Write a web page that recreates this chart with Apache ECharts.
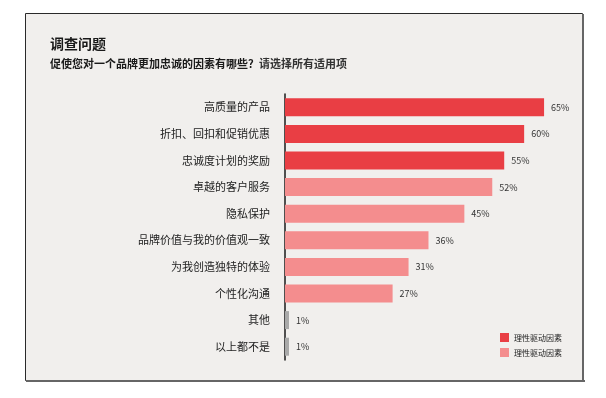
<!DOCTYPE html>
<html>
<head>
<meta charset="utf-8">
<script src="https://cdn.jsdelivr.net/npm/echarts@6/dist/echarts.min.js"></script>
<style>
	html, body { margin: 0; padding: 0; background: #ffffff; }
	#chart { width: 606px; height: 398px; }
</style>
</head>
<body>
<div id="chart"></div>
<script>
// 数据
var categories = ['高质量的产品', '折扣、回扣和促销优惠', '忠诚度计划的奖励', '卓越的客户服务', '隐私保护',
	'品牌价值与我的价值观一致', '为我创造独特的体验', '个性化沟通', '其他', '以上都不是'];
var rationalValues = [65, 60, 55, null, null, null, null, null, null, null];
var emotionalValues = [null, null, null, 52, 45, 36, 31, 27, null, null];
var otherValues = [null, null, null, null, null, null, null, null, 1, 1];

window.onload = function () {
	var chart = echarts.init(document.getElementById('chart'));
	var font = '"Noto Sans CJK SC", "Noto Sans", sans-serif';

	var labelOpt = {
		show: true,
		position: 'right',
		distance: 7,
		formatter: '{c}%',
		color: '#333333',
		fontSize: 9,
		fontFamily: font
	};

	var option = {
		backgroundColor: '#ffffff',
		textStyle: { fontFamily: font },
		graphic: [
			{
				type: 'rect',
				z: -10,
				shape: { x: 25.5, y: 13.5, width: 557, height: 367 },
				style: { fill: '#f1efed', stroke: '#2a2a2a', lineWidth: 1 }
			},
			{
				type: 'rect',
				z: -9,
				shape: { x: 26, y: 380, width: 559, height: 2 },
				style: { fill: '#666666' }
			},
			{
				type: 'rect',
				z: -9,
				shape: { x: 582, y: 14, width: 2, height: 368 },
				style: { fill: '#666666' }
			}
		],
		title: [
			{
				text: '调查问题',
				left: 45,
				top: 32,
				textStyle: { fontSize: 14, fontWeight: 'bold', color: '#1a1a1a', fontFamily: font }
			},
			{
				text: '{b|促使您对一个品牌更加忠诚的因素有哪些？}{n|请选择所有适用项}',
				left: 45,
				top: 53,
				textStyle: {
					rich: {
						b: { fontSize: 11, fontWeight: 'bold', color: '#1a1a1a', fontFamily: font },
						n: { fontSize: 11, color: '#333333', fontFamily: font }
					}
				}
			}
		],
		legend: {
			orient: 'vertical',
			left: 495,
			top: 328,
			itemWidth: 9,
			itemHeight: 9,
			itemGap: 6,
			icon: 'rect',
			textStyle: { fontSize: 8, color: '#222222', fontFamily: font },
			data: [
				{ name: '理性驱动因素', itemStyle: { color: '#e93e44' } },
				{ name: '理性驱动因素 ', itemStyle: { color: '#f48d8e' } }
			],
			formatter: function (name) { return name.trim(); }
		},
		grid: {
			left: 285,
			top: 94,
			width: 279,
			height: 266,
			containLabel: false
		},
		xAxis: {
			type: 'value',
			min: 0,
			max: 70,
			show: false
		},
		yAxis: {
			type: 'category',
			data: categories,
			inverse: true,
			axisLine: { show: true, lineStyle: { color: '#1a1a1a', width: 1.5 } },
			axisTick: { show: false },
			axisLabel: { color: '#222222', fontSize: 11, margin: 15, fontFamily: font }
		},
		series: [
			{
				name: '理性驱动因素',
				type: 'bar',
				stack: 'all',
				barWidth: 18,
				itemStyle: { color: '#e93e44' },
				label: labelOpt,
				data: rationalValues
			},
			{
				name: '理性驱动因素 ',
				type: 'bar',
				stack: 'all',
				barWidth: 18,
				itemStyle: { color: '#f48d8e' },
				label: labelOpt,
				data: emotionalValues
			},
			{
				name: 'other',
				type: 'bar',
				stack: 'all',
				barWidth: 18,
				itemStyle: { color: '#a9a9a9' },
				label: labelOpt,
				data: otherValues
			}
		]
	};
	chart.setOption(option);
};
</script>
</body>
</html>
